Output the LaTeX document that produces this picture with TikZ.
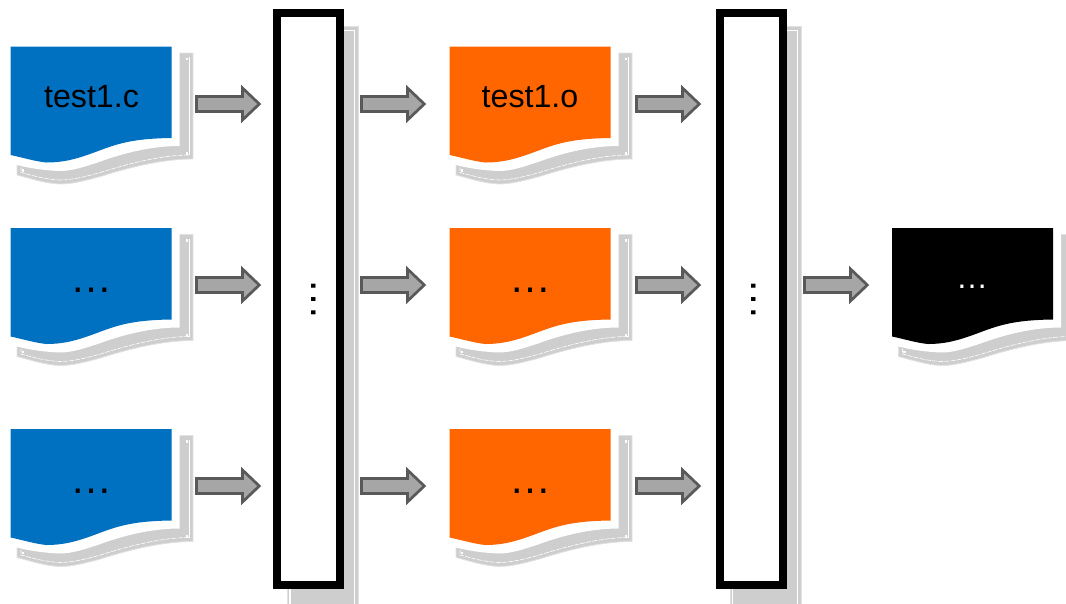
\documentclass[tikz,border=0pt]{standalone}
\usepackage{fontspec}
\setmainfont{Liberation Sans}
\definecolor{shadowgray}{HTML}{CECECE}
\definecolor{shadowedge}{HTML}{E2E2E2}
\definecolor{docblue}{HTML}{0070C0}
\definecolor{docorange}{HTML}{FF6600}
\definecolor{arrowfill}{HTML}{A6A6A6}
\definecolor{arrowedge}{HTML}{595959}
\tikzset{
  x=1pt,y=-1pt,
  shadowfill/.style={fill=shadowgray,draw=shadowedge,line width=0.8pt},
  stitch/.style={draw=white,line width=0.6pt},
  barbox/.style={draw=black,line width=8pt,fill=white,minimum width=63.2pt,minimum height=572.6pt,inner sep=0pt,outer sep=0pt,anchor=north west},
  flowarrow/.style={draw=arrowedge,fill=arrowfill,line width=2.7pt,miter limit=6},
  doclabel/.style={inner sep=0pt,font=\fontsize{32.2}{36}\selectfont},
  dotlabel/.style={inner sep=0pt,anchor=base,font=\fontsize{42}{46}\selectfont},
  smalldots/.style={inner sep=0pt,anchor=base,text=white,font=\fontsize{32}{36}\selectfont},
  vdots/.style={inner sep=0pt,font=\fontsize{42}{46}\selectfont,rotate=-90},
  pics/docsheet/.style={code={
    \path[shadowfill] (6.5,6.5) -- (182.5,6.5) -- (182.5,112.5)
      .. controls (150,112.5) and (115,122) .. (90,130)
      .. controls (75,134) and (62,137.5) .. (49.5,137.5)
      .. controls (35,137) and (20,132) .. (6.5,128.5) -- cycle;
    \path[stitch] (178.5,10.5) -- (178.5,108.5);
    \path[stitch,dash pattern=on 5pt off 1.2pt] (178.5,108.5)
      .. controls (150,108.5) and (115,118) .. (90,126)
      .. controls (75,130) and (62,133.5) .. (49.5,133.5)
      .. controls (35,133) and (22,129) .. (10.5,126) -- (10.5,121);
    \path[fill=white] (175,11) rectangle (177.5,13.5);
    \path[fill=white] (175,105.5) rectangle (177.5,108);
    \path[fill=white] (11,122.5) rectangle (13.5,125);
    \path[fill=white] (-1,-1) -- (169,-1) -- (169,99.5)
      .. controls (140,99.5) and (112,107) .. (90,115)
      .. controls (75,120) and (62,124.5) .. (49.5,124.5)
      .. controls (35,124) and (20,122) .. (6.5,118.5) -- (-1,117) -- cycle;
    \path[fill=#1] (0,0) -- (161,0) -- (161,91.5)
      .. controls (120,92) and (105,98) .. (85,105.5)
      .. controls (65,113) and (52,116) .. (36,116)
      .. controls (25,115) and (12,111) .. (0,108.5) -- cycle;
  }},
}
\begin{document}
\begin{tikzpicture}
\useasboundingbox (0,0) rectangle (1066,603);
\clip (0,0) rectangle (1066,603);
% bar shadows
\foreach \bx in {287.5,730}{
  \path[shadowfill] (\bx,26) rectangle (\bx+71,620);
  \draw[stitch,line width=1.1pt] (\bx+2.5,30.5) -- (\bx+2.5,620);
  \draw[stitch,line width=1.1pt] (\bx+1,30.5) -- (\bx+67.3,30.5) -- (\bx+67.3,620);
}
% documents
\pic at (10.5,46.5) {docsheet=docblue};
\pic at (10.5,228) {docsheet=docblue};
\pic at (10.5,429) {docsheet=docblue};
\pic at (449.5,46.5) {docsheet=docorange};
\pic at (449.5,228) {docsheet=docorange};
\pic at (449.5,429) {docsheet=docorange};
\pic at (892,228) {docsheet=black};
% bars
\node[barbox] (barone) at (277,12.7) {};
\node[barbox] (bartwo) at (719.7,12.7) {};
\node[vdots] (dotsone) at (313.3,299) {…};
\node[vdots] (dotstwo) at (754,299) {…};
% labels
\node[doclabel] (lblc) at (91.5,97) {test1.c};
\node[doclabel] (lblo) at (530,97) {test1.o};
\node[dotlabel] (lblca) at (91,292) {…};
\node[dotlabel] (lblcb) at (91,493) {…};
\node[dotlabel] (lbloa) at (530,292) {…};
\node[dotlabel] (lblob) at (530,493) {…};
\node[smalldots] (lblx) at (972,288) {…};
% arrows
\foreach \ax in {196.5,361.5,636.5,804.5}{
  \foreach \ay in {104,285,486}{
    \ifdim \ax pt=804.5pt \ifdim \ay pt=285pt
      \path[flowarrow] (\ax,\ay-7.5) -- (\ax+46,\ay-7.5) -- (\ax+46,\ay-16) -- (\ax+62.8,\ay) -- (\ax+46,\ay+16) -- (\ax+46,\ay+7.5) -- (\ax,\ay+7.5) -- cycle;
    \fi\else
      \path[flowarrow] (\ax,\ay-7.5) -- (\ax+46,\ay-7.5) -- (\ax+46,\ay-16) -- (\ax+62.8,\ay) -- (\ax+46,\ay+16) -- (\ax+46,\ay+7.5) -- (\ax,\ay+7.5) -- cycle;
    \fi
  }
}
\end{tikzpicture}
\end{document}
